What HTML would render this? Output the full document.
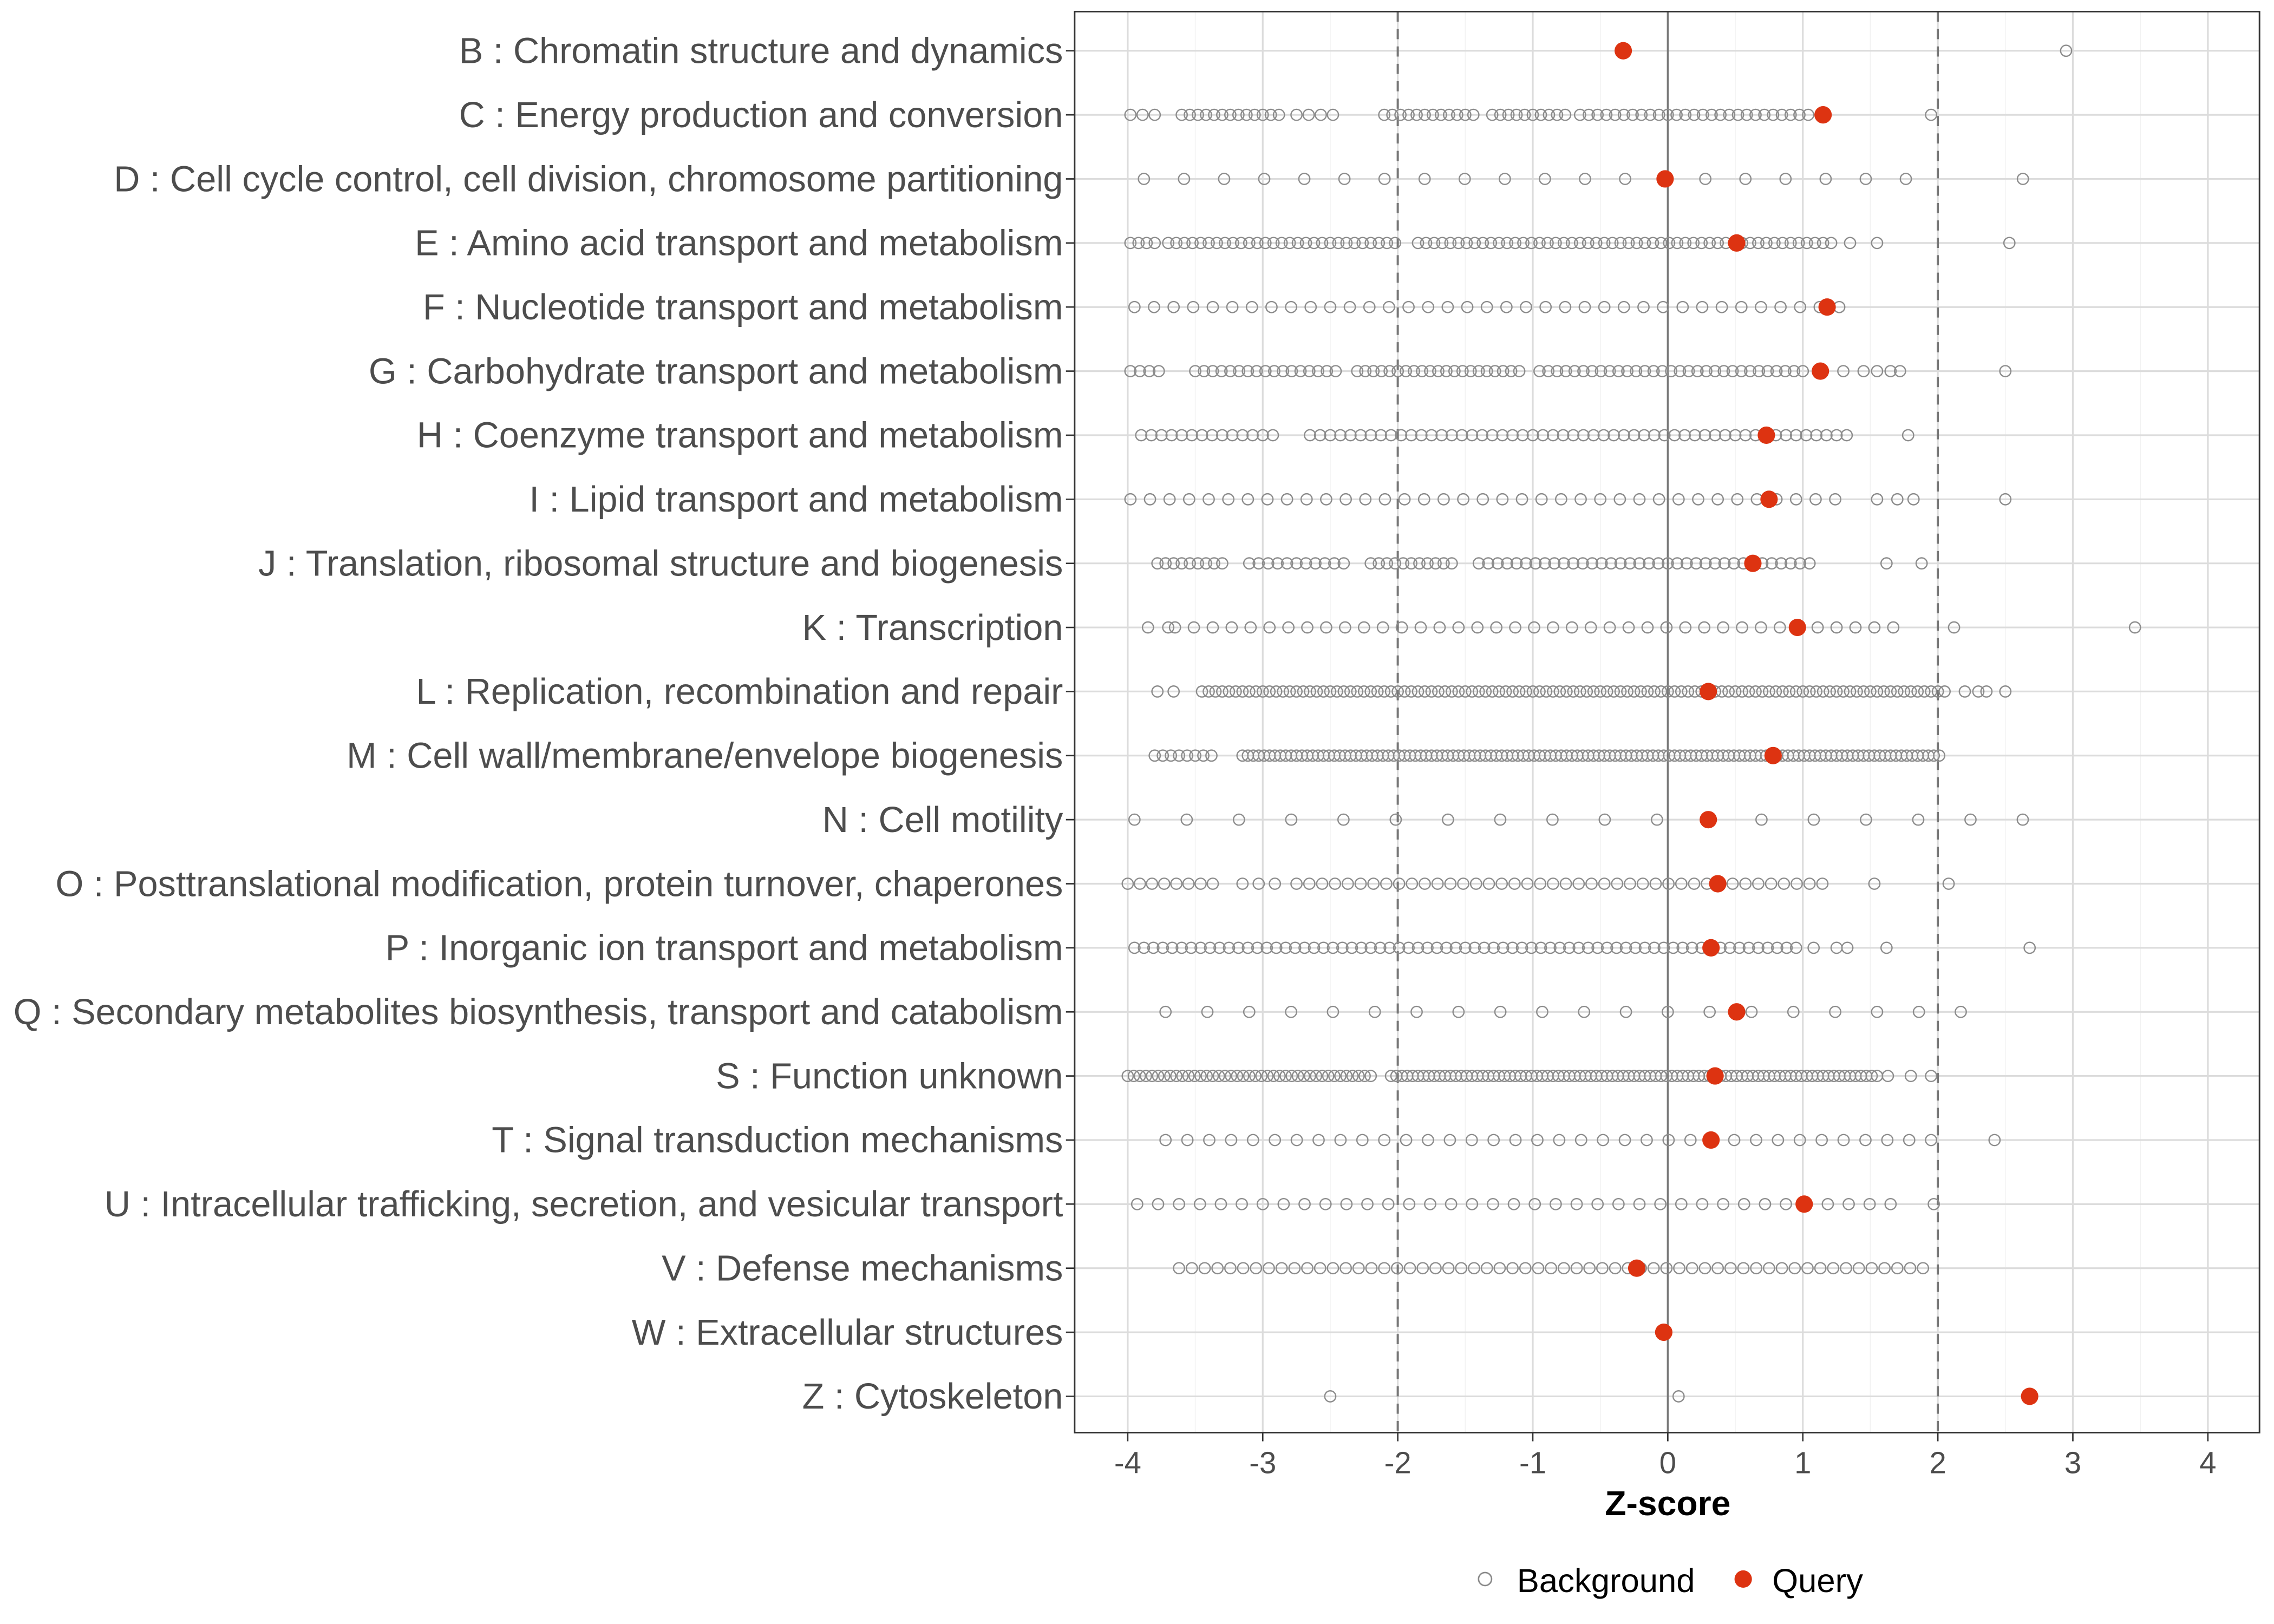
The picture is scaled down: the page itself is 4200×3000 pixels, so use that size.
<!DOCTYPE html>
<html><head><meta charset="utf-8"><style>
html,body{margin:0;padding:0;background:#fff;}
svg{display:block;}
text{font-family:"Liberation Sans",Arial,sans-serif;}
</style></head><body>
<svg id="s" width="4200" height="3000" viewBox="0 0 1568 1120" xmlns="http://www.w3.org/2000/svg">
<rect x="0" y="0" width="1568" height="1120" fill="#fff"/>
<g id="grid"></g>
<g id="pts"></g>
<rect x="741" y="8" width="817" height="980" fill="none" stroke="#333" stroke-width="1.1"/>
<g id="labels" font-size="24.9" fill="#4d4d4d" text-anchor="end"></g>
<g id="xt" font-size="21" fill="#4d4d4d" text-anchor="middle"></g>
<text x="1150" y="1045" font-size="24" font-weight="bold" text-anchor="middle" fill="#000">Z-score</text>
<circle cx="1024" cy="1089" r="4.5" fill="none" stroke="#888" stroke-width="1"/>
<text x="1046" y="1098" font-size="23" fill="#000">Background</text>
<circle cx="1202" cy="1089" r="6" fill="#dd3311"/>
<text x="1222" y="1098" font-size="23" fill="#000">Query</text>
</svg>
<script>
const NS="http://www.w3.org/2000/svg";
const X=z=>1150+z*93.1;
const Y=i=>35+i*44.19;
function el(p,t,a,txt){const e=document.createElementNS(NS,t);for(const k in a)e.setAttribute(k,a[k]);if(txt!==undefined)e.textContent=txt;p.appendChild(e);return e;}
const g=document.getElementById('grid'),pts=document.getElementById('pts'),lab=document.getElementById('labels'),xt=document.getElementById('xt');
for(let z=-4.5;z<=4.5;z+=0.5){const x=X(z);if(x<741||x>1558)continue;
 const major=Number.isInteger(z);
 el(g,'line',{x1:x,x2:x,y1:8,y2:988,stroke:major?'#dcdcdc':'#f2f2f2','stroke-width':major?1.2:0.6});}
const rows=[
["B : Chromatin structure and dynamics",[],[2.95],-0.33],
["C : Energy production and conversion",[[-3.98,-3.78,0.09],[-3.6,-2.85,0.06],[-2.75,-2.4,0.09],[-2.1,-1.4,0.06],[-1.3,-0.75,0.06],[-0.65,1.1,0.065]],[1.95],1.15],
["D : Cell cycle control, cell division, chromosome partitioning",[[-3.88,2.05,0.297]],[2.63],-0.02],
["E : Amino acid transport and metabolism",[[-3.98,-3.8,0.06],[-3.7,-2.0,0.06],[-1.85,1.25,0.06]],[1.35,1.55,2.53],0.51],
["F : Nucleotide transport and metabolism",[[-3.95,1.33,0.145]],[],1.18],
["G : Carbohydrate transport and metabolism",[[-3.98,-3.75,0.07],[-3.5,-2.45,0.065],[-2.3,-1.05,0.06],[-0.95,1.05,0.065]],[1.3,1.45,1.55,1.65,1.72,2.5],1.13],
["H : Coenzyme transport and metabolism",[[-3.9,-2.9,0.075],[-2.65,1.35,0.075]],[1.78],0.73],
["I : Lipid transport and metabolism",[[-3.98,1.3,0.145]],[1.55,1.7,1.82,2.5],0.75],
["J : Translation, ribosomal structure and biogenesis",[[-3.78,-3.3,0.06],[-3.1,-2.4,0.07],[-2.2,-1.55,0.06],[-1.4,1.08,0.07]],[1.62,1.88],0.63],
["K : Transcription",[[-3.85,-3.7,0.15],[-3.65,1.75,0.14]],[2.12,3.46],0.96],
["L : Replication, recombination and repair",[[-3.78,-3.65,0.12],[-3.45,2.05,0.05]],[2.2,2.3,2.36,2.5],0.3],
["M : Cell wall/membrane/envelope biogenesis",[[-3.8,-3.35,0.06],[-3.15,2.02,0.04]],[],0.78],
["N : Cell motility",[[-3.95,2.63,0.387]],[],0.3],
["O : Posttranslational modification, protein turnover, chaperones",[[-4.0,-3.3,0.09],[-3.15,-2.9,0.12],[-2.75,1.22,0.095]],[1.53,2.08],0.37],
["P : Inorganic ion transport and metabolism",[[-3.95,0.95,0.07]],[1.08,1.25,1.33,1.62,2.68],0.32],
["Q : Secondary metabolites biosynthesis, transport and catabolism",[[-3.72,2.32,0.31]],[],0.51],
["S : Function unknown",[[-4.0,-2.2,0.045],[-2.05,1.55,0.04]],[1.63,1.8,1.95],0.35],
["T : Signal transduction mechanisms",[[-3.72,1.95,0.162]],[2.42],0.32],
["U : Intracellular trafficking, secretion, and vesicular transport",[[-3.93,1.65,0.155]],[1.97],1.01],
["V : Defense mechanisms",[[-3.62,1.97,0.095]],[],-0.23],
["W : Extracellular structures",[],[],-0.03],
["Z : Cytoskeleton",[],[-2.5,0.08],2.68]];
rows.forEach((r,i)=>{const y=Y(i);el(g,'line',{x1:741,x2:1558,y1:y,y2:y,stroke:'#dcdcdc','stroke-width':1.2});
 el(g,'line',{x1:735,x2:741,y1:y,y2:y,stroke:'#333','stroke-width':1});
 el(lab,'text',{x:733,y:y+8.5},r[0]);});
el(g,'line',{x1:X(0),x2:X(0),y1:8,y2:988,stroke:'#7a7a7a','stroke-width':1.3});
[-2,2].forEach(z=>el(g,'line',{x1:X(z),x2:X(z),y1:8,y2:988,stroke:'#777','stroke-width':1.5,'stroke-dasharray':'7,5'}));
for(let z=-4;z<=4;z++){el(g,'line',{x1:X(z),x2:X(z),y1:988,y2:994,stroke:'#333','stroke-width':1});el(xt,'text',{x:X(z),y:1016},String(z));}
rows.forEach((r,i)=>{const y=Y(i);
 r[1].forEach(s=>{for(let z=s[0];z<=s[1]+1e-6;z+=s[2])el(pts,'circle',{cx:X(z),cy:y,r:3.8,fill:'none',stroke:'#8c8c8c','stroke-width':0.9});});
 r[2].forEach(z=>el(pts,'circle',{cx:X(z),cy:y,r:3.8,fill:'none',stroke:'#8c8c8c','stroke-width':0.9}));
});
rows.forEach((r,i)=>el(pts,'circle',{cx:X(r[3]),cy:Y(i),r:6,fill:'#dd3311'}));
</script>
</body></html>
